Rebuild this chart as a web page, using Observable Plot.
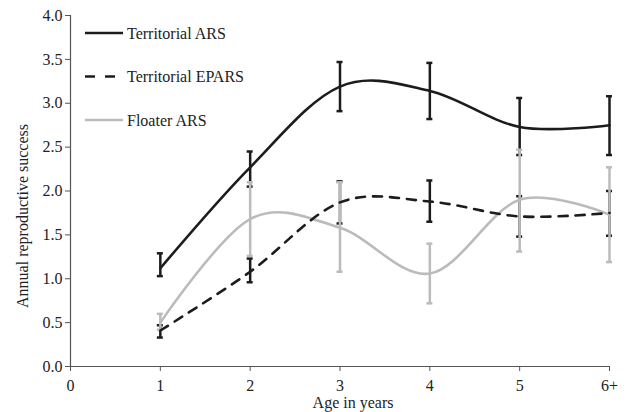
<!DOCTYPE html>
<html>
<head>
<meta charset="utf-8">
<script src="https://cdn.jsdelivr.net/npm/d3@7"></script>
<script src="https://cdn.jsdelivr.net/npm/@observablehq/plot@0.6"></script>
<style>
  html, body { margin: 0; padding: 0; background: #fff; }
  svg { font-family: "Liberation Serif", "DejaVu Serif", serif; }
</style>
</head>
<body>
<div id="chart"></div>
<script>
// ---- data ----
const ages = [1, 2, 3, 4, 5, 6];
const xTicks = [0, 1, 2, 3, 4, 5, 6];
const xTickLabels = ["0", "1", "2", "3", "4", "5", "6+"];
const yTicks = [0, 0.5, 1, 1.5, 2, 2.5, 3, 3.5, 4];

const seriesNames = ["Territorial ARS", "Territorial EPARS", "Floater ARS"];

const terrARS    = [1.12, 2.27, 3.19, 3.14, 2.73, 2.75];
const terrARSlo  = [1.03, 2.05, 2.91, 2.82, 2.41, 2.41];
const terrARShi  = [1.29, 2.45, 3.47, 3.46, 3.06, 3.08];

const terrEPARS   = [0.41, 1.08, 1.87, 1.88, 1.71, 1.75];
const terrEPARSlo = [0.33, 0.96, 1.63, 1.65, 1.48, 1.49];
const terrEPARShi = [0.47, 1.23, 2.11, 2.12, 1.94, 2.00];

const floaterARS   = [0.50, 1.68, 1.58, 1.06, 1.90, 1.73];
const floaterARSlo = [0.42, 1.26, 1.08, 0.72, 1.31, 1.19];
const floaterARShi = [0.60, 2.10, 2.10, 1.40, 2.47, 2.27];

// ---- styles ----
const BLACK = "#1c1c1c";
const GRAY = "#bbbbbb";
const FONT = "'Liberation Serif', 'Times New Roman', serif";
const styles = [
  {stroke: BLACK, dash: null},
  {stroke: BLACK, dash: "10,10"},
  {stroke: GRAY, dash: null}
];

function rows(vals, lo, hi) {
  return ages.map((a, i) => ({age: a, v: vals[i], lo: lo[i], hi: hi[i]}));
}
const data = [
  rows(terrARS, terrARSlo, terrARShi),
  rows(terrEPARS, terrEPARSlo, terrEPARShi),
  rows(floaterARS, floaterARSlo, floaterARShi)
];

function errMarks(d, stroke) {
  return [
    Plot.ruleX(d, {x: "age", y1: "lo", y2: "hi", stroke, strokeWidth: 2.5}),
    Plot.ruleY(d, {x1: "age", x2: "age", y: "lo", stroke, strokeWidth: 2.5, insetLeft: -3, insetRight: -3}),
    Plot.ruleY(d, {x1: "age", x2: "age", y: "hi", stroke, strokeWidth: 2.5, insetLeft: -3, insetRight: -3})
  ];
}

const fmtX = (d) => xTickLabels[xTicks.indexOf(d)];
const fmtY = (d) => d.toFixed(1);

const chart = Plot.plot({
  width: 630,
  height: 412,
  marginLeft: 70,
  marginRight: 21,
  marginTop: 15,
  marginBottom: 46,
  style: {fontFamily: FONT, fontSize: "16px", color: "#222", background: "#fff"},
  x: {domain: [0, 6], label: null},
  y: {domain: [0, 4], label: null},
  marks: [
    Plot.ruleX([0], {stroke: "#555", strokeWidth: 1.2}),
    Plot.ruleY([0], {stroke: "#555", strokeWidth: 1.2}),
    Plot.axisX({ticks: xTicks, tickFormat: fmtX, tickSize: 5, tickPadding: 8, stroke: "#555", fill: "#222", fontSize: 16, label: null}),
    Plot.axisY({ticks: yTicks, tickFormat: fmtY, tickSize: 5, tickPadding: 3, stroke: "#555", fill: "#222", fontSize: 16, label: null}),
    ...errMarks(data[1], BLACK),
    ...errMarks(data[0], BLACK),
    ...errMarks(data[2], GRAY),
    Plot.line(data[2], {x: "age", y: "v", curve: "cardinal", stroke: GRAY, strokeWidth: 2.6}),
    Plot.line(data[1], {x: "age", y: "v", curve: "cardinal", stroke: BLACK, strokeWidth: 2.6, strokeDasharray: "9,8"}),
    Plot.line(data[0], {x: "age", y: "v", curve: "cardinal", stroke: BLACK, strokeWidth: 2.6}),
    Plot.text(["Age in years"], {frameAnchor: "bottom", textAnchor: "middle", lineAnchor: "middle", dx: 13, dy: 36, fill: "#222", fontSize: 16}),
    Plot.text(["Annual reproductive success"], {frameAnchor: "left", textAnchor: "middle", lineAnchor: "middle", dx: -48, dy: 25, rotate: -90, fill: "#222", fontSize: 16})
  ]
});

// legend inside the plot, top-left
const svg = d3.select(chart);
const leg = svg.append("g");
seriesNames.forEach((name, i) => {
  const y = 33 + i * 43.5;
  leg.append("line")
    .attr("x1", 85).attr("x2", 123).attr("y1", y).attr("y2", y)
    .attr("stroke", styles[i].stroke).attr("stroke-width", 2.6)
    .attr("stroke-dasharray", styles[i].dash);
  leg.append("text")
    .attr("x", 127).attr("y", y).attr("dy", "0.35em")
    .attr("text-anchor", "start")
    .attr("fill", "#222").attr("font-size", 16)
    .attr("font-family", FONT)
    .text(name);
});

document.getElementById("chart").appendChild(chart);
</script>
</body>
</html>
